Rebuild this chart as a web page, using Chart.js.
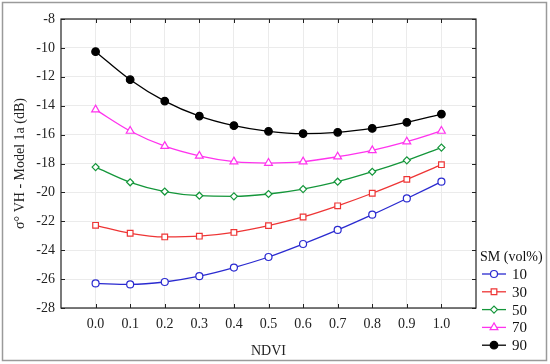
<!DOCTYPE html>
<html>
<head>
<meta charset="utf-8">
<script src="https://cdn.jsdelivr.net/npm/chart.js@4/dist/chart.umd.min.js"></script>
<style>
  html, body { margin: 0; padding: 0; background: #fff; }
  #wrap { width: 550px; height: 364px; position: relative; }
</style>
</head>
<body>
<div id="wrap"><canvas id="chart" width="550" height="364"></canvas></div>
<script>
// NDVI vs backscatter, one line per soil moisture level
const ndvi = [0.0, 0.1, 0.2, 0.3, 0.4, 0.5, 0.6, 0.7, 0.8, 0.9, 1.0];
const smLevels = ['10', '30', '50', '70', '90'];
const sm10 = [-26.3, -26.37, -26.2, -25.8, -25.2, -24.47, -23.57, -22.6, -21.54, -20.42, -19.26];
const sm30 = [-22.28, -22.83, -23.08, -23.03, -22.77, -22.3, -21.7, -20.93, -20.06, -19.1, -18.08];
const sm50 = [-18.25, -19.3, -19.94, -20.23, -20.27, -20.11, -19.77, -19.26, -18.57, -17.78, -16.9];
const sm70 = [-14.27, -15.75, -16.8, -17.47, -17.87, -17.97, -17.87, -17.53, -17.09, -16.49, -15.75];
const sm90 = [-10.26, -12.2, -13.68, -14.72, -15.38, -15.77, -15.93, -15.84, -15.57, -15.15, -14.58];
const yTicks = [-8, -10, -12, -14, -16, -18, -20, -22, -24, -26, -28];

const SERIF = '"Liberation Serif", "DejaVu Serif", serif';

const STYLES = [
  { color: '#2a2ad0', point: 'circle', r: 3.5, fill: '#fff' },
  { color: '#ee3535', point: 'rect', r: 4, fill: '#fff' },
  { color: '#14963a', point: 'rectRot', r: 3.5, fill: '#fff' },
  { color: '#ff33ee', point: 'triangle', r: 4.5, fill: '#fff' },
  { color: '#000000', point: 'circle', r: 3.8, fill: '#000' },
];

const seriesValues = [sm10, sm30, sm50, sm70, sm90];
const datasets = seriesValues.map((vals, i) => ({
  label: smLevels[i],
  data: vals.map((v, j) => ({ x: ndvi[j], y: v })),
  borderColor: STYLES[i].color,
  backgroundColor: STYLES[i].fill,
  pointBorderColor: STYLES[i].color,
  pointBackgroundColor: STYLES[i].fill,
  pointStyle: STYLES[i].point,
  pointRadius: STYLES[i].r,
  pointBorderWidth: 1.2,
  borderWidth: 1.3,
  cubicInterpolationMode: 'monotone',
}));

const inRange = v => v > -0.05 && v < 1.05;

// frame, inner ticks, outer border and legend
const decor = {
  id: 'decor',
  afterDraw(chart) {
    const { ctx, chartArea: a, scales } = chart;
    ctx.save();
    // frame
    ctx.strokeStyle = '#222';
    ctx.lineWidth = 1.2;
    ctx.strokeRect(a.left, a.top, a.right - a.left, a.bottom - a.top);
    // inner ticks
    ctx.lineWidth = 1;
    ctx.beginPath();
    scales.x.ticks.forEach(t => {
      if (!inRange(t.value)) return;
      const px = Math.round(scales.x.getPixelForValue(t.value)) + 0.5;
      ctx.moveTo(px, a.top); ctx.lineTo(px, a.top + 4);
      ctx.moveTo(px, a.bottom); ctx.lineTo(px, a.bottom - 4);
    });
    scales.y.ticks.forEach(t => {
      const py = Math.round(scales.y.getPixelForValue(t.value)) + 0.5;
      ctx.moveTo(a.left, py); ctx.lineTo(a.left + 4, py);
      ctx.moveTo(a.right, py); ctx.lineTo(a.right - 4, py);
    });
    ctx.stroke();
    // outer border
    ctx.strokeStyle = '#9a9a9a';
    ctx.lineWidth = 1.5;
    ctx.strokeRect(2.5, 2.5, 544, 358);
    // legend
    ctx.fillStyle = '#111';
    ctx.font = '14px ' + SERIF;
    ctx.textBaseline = 'middle';
    ctx.textAlign = 'left';
    ctx.fillText('SM (vol%)', 480, 257);
    ctx.font = '15px ' + SERIF;
    chart.data.datasets.forEach((ds, i) => {
      const y = 274 + i * 17.8;
      ctx.strokeStyle = ds.borderColor;
      ctx.lineWidth = 1.3;
      ctx.beginPath();
      ctx.moveTo(482, y); ctx.lineTo(506, y);
      ctx.stroke();
      ctx.fillStyle = ds.pointBackgroundColor;
      ctx.lineWidth = 1.2;
      Chart.helpers.drawPoint(ctx, { pointStyle: ds.pointStyle, radius: ds.pointRadius, borderWidth: 1.2, rotation: 0 }, 494, y);
      ctx.fillStyle = '#111';
      ctx.fillText(ds.label, 512, y + 1);
    });
    ctx.restore();
  }
};

new Chart(document.getElementById('chart'), {
  type: 'line',
  data: { datasets },
  options: {
    responsive: false,
    animation: false,
    layout: { padding: { top: 19, right: 74, left: 0, bottom: 0 } },
    plugins: { legend: { display: false }, tooltip: { enabled: false } },
    scales: {
      x: {
        type: 'linear',
        min: -0.1, max: 1.1,
        afterFit: s => { s.height = 56; },
        ticks: {
          stepSize: 0.1,
          autoSkip: false,
          maxRotation: 0,
          color: '#222',
          padding: 8,
          font: { family: SERIF, size: 14 },
          callback: v => inRange(v) ? v.toFixed(1) : '',
        },
        grid: {
          drawTicks: false,
          color: c => inRange(c.tick.value) ? '#ebebeb' : 'rgba(0,0,0,0)',
        },
        border: { display: false },
        title: {
          display: true, text: 'NDVI', color: '#222',
          font: { family: SERIF, size: 14 }, padding: { top: 6 },
        },
      },
      y: {
        min: -28, max: -8,
        afterFit: s => { s.width = 61; },
        afterBuildTicks: s => { s.ticks = yTicks.map(v => ({ value: v })); },
        ticks: {
          color: '#222',
          padding: 6,
          font: { family: SERIF, size: 14 },
        },
        grid: { drawTicks: false, color: '#ebebeb' },
        border: { display: false },
        title: {
          display: true, text: 'σ° VH - Model 1a (dB)', color: '#222',
          font: { family: SERIF, size: 14 }, padding: { top: 12, bottom: 0 },
        },
      },
    },
  },
  plugins: [decor],
});
</script>
</body>
</html>
